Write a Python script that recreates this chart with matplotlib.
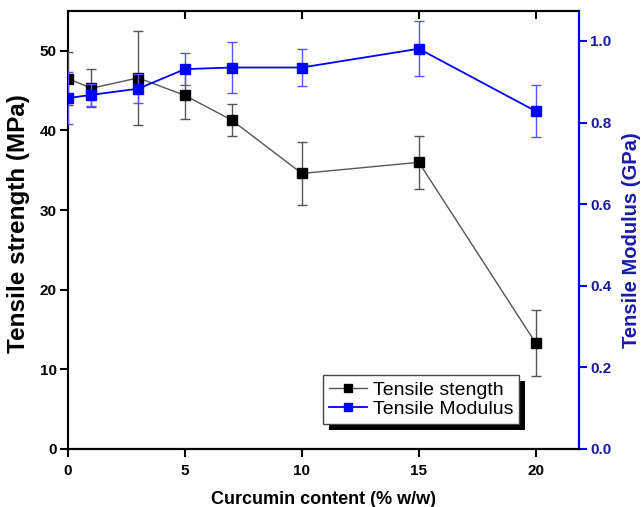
import matplotlib
matplotlib.use("Agg")
import matplotlib.pyplot as plt
from matplotlib.patches import Rectangle
from matplotlib.lines import Line2D
from matplotlib.transforms import IdentityTransform

plt.rcParams['font.family'] = ['Liberation Sans', 'DejaVu Sans']

content = [0, 1, 3, 5, 7, 10, 15, 20]
strength = [46.5, 45.3, 46.6, 44.4, 41.3, 34.6, 36.0, 13.3]
strength_err = [3.3, 2.4, 5.9, 3.0, 2.0, 4.0, 3.3, 4.1]
modulus = [0.860, 0.868, 0.883, 0.931, 0.935, 0.935, 0.981, 0.828]
modulus_err = [0.063, 0.027, 0.035, 0.040, 0.062, 0.045, 0.068, 0.063]
xticks = [0, 5, 10, 15, 20]
lticks = [0, 10, 20, 30, 40, 50]
rticks = [0.0, 0.2, 0.4, 0.6, 0.8, 1.0]
labels = ['Tensile stength', 'Tensile Modulus']

fig = plt.figure(figsize=(6.41, 5.07), dpi=100)
ax = fig.add_axes([68/641, 58/507, 511/641, 438/507])
ax2 = ax.twinx()

ax.errorbar(content, strength, yerr=strength_err, color='#555555', lw=1.0,
            marker='s', ms=7.5, mfc='black', mec='black',
            ecolor='#555555', elinewidth=1.0, capsize=3.5, capthick=1.0,
            zorder=3)
ax2.errorbar(content, modulus, yerr=modulus_err, color='#0000ff', lw=1.3,
             marker='s', ms=7.5, mfc='#0000ff', mec='#0000ff',
             ecolor='#5555ff', elinewidth=1.0, capsize=3.5, capthick=1.0,
             zorder=3)

ax.set_xlim(0, 21.85)
ax.set_ylim(0, 55)
ax2.set_ylim(0, 1.0735)
ax.set_xticks(xticks)
ax.set_yticks(lticks)
ax2.set_yticks(rticks)
ax2.set_yticklabels([f"{v:.1f}" for v in rticks])

for a in (ax, ax2):
    for s in a.spines.values():
        s.set_linewidth(1.5)
ax2.spines['right'].set_color('#0000ff')
ax2.spines['left'].set_visible(False)

ax.tick_params(axis='x', direction='out', length=6, width=1.5, labelsize=11, pad=5)
ax.tick_params(axis='y', direction='out', length=6, width=1.5, labelsize=11, pad=2)
ax2.tick_params(axis='y', direction='out', length=6, width=1.5, labelsize=11,
                colors='#0000ff', pad=2)
for lab in ax.get_xticklabels() + ax.get_yticklabels():
    lab.set_fontweight('bold')
for lab in ax2.get_yticklabels():
    lab.set_fontweight('bold')
    lab.set_color('#1a1a99')

# top ticks inward
axt = ax.twiny()
axt.set_xlim(ax.get_xlim())
axt.set_xticks(xticks)
axt.tick_params(axis='x', direction='in', length=6, width=1.5, labeltop=False)
for s in axt.spines.values():
    s.set_visible(False)

ax.set_xlabel('Curcumin content (% w/w)', fontsize=13, fontweight='bold', labelpad=9)
ax.set_ylabel('Tensile strength (MPa)', fontsize=17.5, fontweight='bold')
ax.yaxis.set_label_coords(-0.074, 0.514)
ax2.set_ylabel('Tensile Modulus (GPa)', fontsize=14.5, fontweight='bold',
               color='#1a1aaa')
ax2.yaxis.set_label_coords(1.084, 0.477)

handles = [
    Line2D([], [], color='#555555', lw=1.0, marker='s', ms=5.5, mfc='black', mec='black'),
    Line2D([], [], color='#0000ff', lw=1.3, marker='s', ms=5.5, mfc='#0000ff', mec='#0000ff'),
]
leg = axt.legend(handles, labels, loc='lower left', bbox_to_anchor=(0.499, 0.057),
                 borderaxespad=0, fontsize=14, frameon=True, fancybox=False,
                 edgecolor='#444444', framealpha=1, numpoints=1,
                 handlelength=1.96, labelspacing=0.1, handletextpad=0.3,
                 borderpad=0.3)
leg.get_frame().set_linewidth(1.0)
leg.set_zorder(10)

fig.canvas.draw()
bb = leg.get_window_extent()
sh = Rectangle((bb.x0 + 6, bb.y0 - 6), bb.width, bb.height, transform=IdentityTransform(),
               facecolor='black', edgecolor='none', zorder=9, clip_on=False)
axt.add_artist(sh)

fig.savefig('out.png', dpi=100)
